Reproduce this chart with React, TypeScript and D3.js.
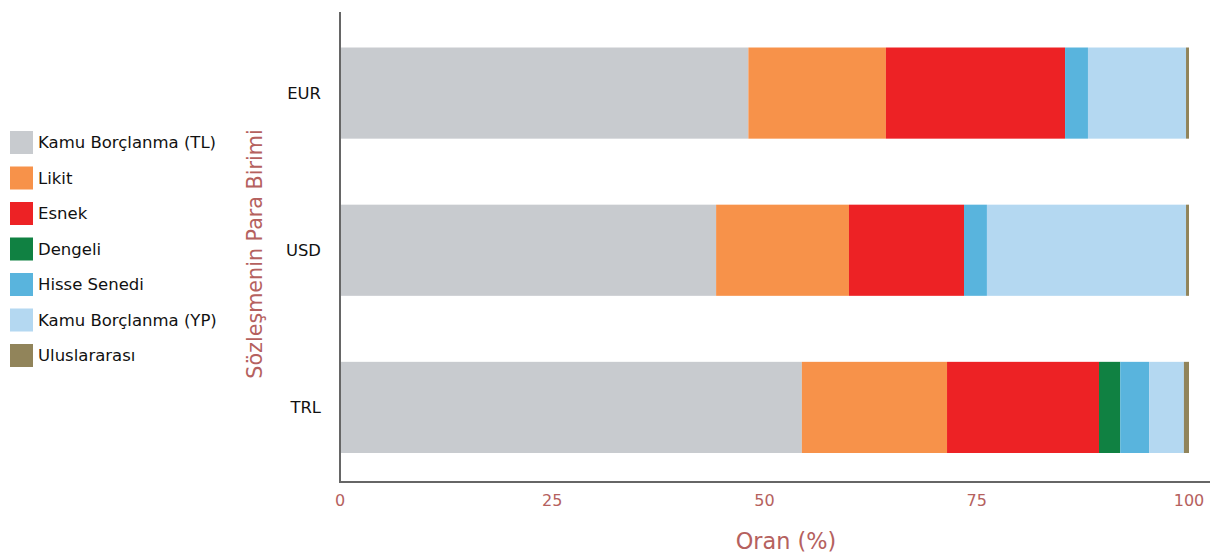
import React from "react";
import * as d3 from "d3";

const categories = ["EUR", "USD", "TRL"];
const seriesNames = [
  "Kamu Borçlanma (TL)",
  "Likit",
  "Esnek",
  "Dengeli",
  "Hisse Senedi",
  "Kamu Borçlanma (YP)",
  "Uluslararası",
];
const kamuTL = [48.1, 44.3, 54.4];
const likit = [16.2, 15.65, 17.1];
const esnek = [21.1, 13.55, 17.9];
const dengeli = [0, 0, 2.5];
const hisse = [2.7, 2.7, 3.4];
const kamuYP = [11.55, 23.45, 4.1];
const uluslararasi = [0.35, 0.35, 0.6];
const xTicks = [0, 25, 50, 75, 100];
const colors = ["#C8CBCF", "#F7924A", "#ED2225", "#108142", "#59B4DD", "#B4D8F1", "#91845A"];

const W = 1213;
const H = 558;
const axisColor = "#B5615E";

export default function App() {
  const seriesVals = [kamuTL, likit, esnek, dengeli, hisse, kamuYP, uluslararasi];
  const rows = categories.map((c, i) => {
    const r: any = { cat: c };
    seriesNames.forEach((s, j) => (r[s] = seriesVals[j][i]));
    return r;
  });
  const stack = d3.stack<any>().keys(seriesNames)(rows);
  const x = d3.scaleLinear().domain([0, 100]).range([340, 1189]);
  const y = d3.scaleBand().domain(categories).range([14.5, 486]).paddingInner(0.42).paddingOuter(0.21);
  const axisY = 482;

  return (
    <svg width={W} height={H} style={{ position: "absolute", left: 0, top: 0, fontFamily: "DejaVu Sans, Verdana, sans-serif" }}>
      <rect width={W} height={H} fill="#fff" />
      {stack.map((layer, j) => (
        <g key={j} fill={colors[j]}>
          {layer.map((d, i) => (
            <rect key={i} x={x(d[0])} y={y(categories[i])} width={Math.max(0, x(d[1]) - x(d[0]))} height={y.bandwidth()} />
          ))}
        </g>
      ))}
      <line x1={340} x2={340} y1={12} y2={axisY} stroke="#666" strokeWidth={2} />
      <line x1={339} x2={1210} y1={axisY} y2={axisY} stroke="#666" strokeWidth={2} />
      {categories.map((c) => (
        <text key={c} x={321} y={(y(c) as number) + y.bandwidth() / 2} textAnchor="end" dominantBaseline="central" fontSize={16.4} fill="#111">
          {c}
        </text>
      ))}
      {xTicks.map((t) => (
        <text key={t} x={x(t)} y={500} textAnchor="middle" dominantBaseline="central" fontSize={16} fill={axisColor}>
          {t}
        </text>
      ))}
      <text x={786} y={541} textAnchor="middle" dominantBaseline="central" fontSize={22.4} fill={axisColor}>
        Oran (%)
      </text>
      <text transform={`translate(255,254) rotate(-90)`} textAnchor="middle" dominantBaseline="central" fontSize={20.7} fill={axisColor}>
        Sözleşmenin Para Birimi
      </text>
      {seriesNames.map((s, j) => (
        <g key={s} transform={`translate(10,${142.5 + j * 35.5})`}>
          <rect x={0} y={-11.5} width={23} height={23} fill={colors[j]} />
          <text x={28} y={0} dominantBaseline="central" fontSize={16.5} fill="#111">
            {s}
          </text>
        </g>
      ))}
    </svg>
  );
}
